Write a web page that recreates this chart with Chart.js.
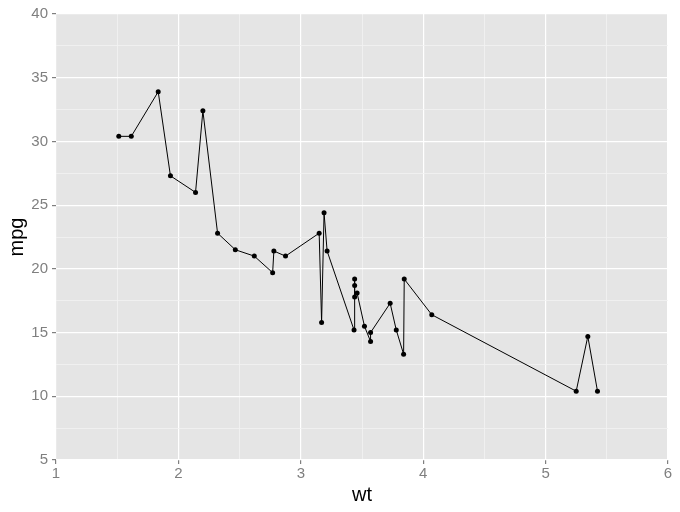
<!DOCTYPE html>
<html>
<head>
<meta charset="utf-8">
<script src="https://cdn.jsdelivr.net/npm/chart.js@4"></script>
<style>
  html, body { margin: 0; padding: 0; background: #fff; }
  #wrap { width: 680px; height: 512px; }
</style>
</head>
<body>
<div id="wrap"><canvas id="chart" width="680" height="512"></canvas></div>
<script>
// mtcars, sorted by weight (geom_line order)
const wt = [1.513, 1.615, 1.835, 1.935, 2.140, 2.200, 2.320, 2.465, 2.620, 2.770, 2.780, 2.875,
  3.150, 3.170, 3.190, 3.215, 3.435, 3.440, 3.440, 3.440, 3.460, 3.520, 3.570, 3.570,
  3.730, 3.780, 3.840, 3.845, 4.070, 5.250, 5.345, 5.424];
const mpg = [30.4, 30.4, 33.9, 27.3, 26.0, 32.4, 22.8, 21.5, 21.0, 19.7, 21.4, 21.0,
  22.8, 15.8, 24.4, 21.4, 15.2, 18.7, 19.2, 17.8, 18.1, 15.5, 14.3, 15.0,
  17.3, 15.2, 13.3, 19.2, 16.4, 10.4, 14.7, 10.4];
const xTicks = [1, 2, 3, 4, 5, 6];
const yTicks = [5, 10, 15, 20, 25, 30, 35, 40];

const points = wt.map((w, i) => ({ x: w, y: mpg[i] }));

// grey panel behind the grid
const panelBg = {
  id: "panelBg",
  beforeDraw(chart) {
    const { ctx, chartArea: a } = chart;
    ctx.save();
    ctx.fillStyle = "#E5E5E5";
    ctx.fillRect(a.left, a.top, a.right - a.left, a.bottom - a.top);
    ctx.restore();
  },
};

const isMajor = (v, list) => list.some((t) => Math.abs(t - v) < 1e-9);

new Chart(document.getElementById("chart"), {
  type: "scatter",
  data: {
    datasets: [
      {
        data: points,
        showLine: true,
        borderColor: "#000",
        borderWidth: 1,
        backgroundColor: "#000",
        pointRadius: 2.5,
        pointBorderWidth: 0,
      },
    ],
  },
  plugins: [panelBg],
  options: {
    responsive: false,
    animation: false,
    layout: { padding: { top: 14, right: 12, left: 0, bottom: 0 } },
    plugins: { legend: { display: false }, tooltip: { enabled: false } },
    scales: {
      x: {
        type: "linear",
        min: 1,
        max: 6,
        afterFit: (s) => { s.height = 52; },
        border: { display: false },
        grid: {
          color: (c) => (isMajor(c.tick.value, xTicks) ? "#FFFFFF" : "#F2F2F2"),
          lineWidth: (c) => (isMajor(c.tick.value, xTicks) ? 1.2 : 0.8),
          tickColor: (c) => (isMajor(c.tick.value, xTicks) ? "#7F7F7F" : "rgba(0,0,0,0)"),
          tickLength: 4,
        },
        ticks: {
          stepSize: 0.5,
          autoSkip: false,
          maxRotation: 0,
          padding: 1,
          color: "#7F7F7F",
          font: { family: "Liberation Sans", size: 15 },
          callback: (v) => (isMajor(v, xTicks) ? String(v) : ""),
        },
        title: {
          display: true,
          text: "wt",
          color: "#000",
          font: { family: "Liberation Sans", size: 20 },
          padding: { top: 2, bottom: 5 },
        },
      },
      y: {
        type: "linear",
        min: 5,
        max: 40,
        afterFit: (s) => { s.width = 56; },
        border: { display: false },
        grid: {
          color: (c) => (isMajor(c.tick.value, yTicks) ? "#FFFFFF" : "#F2F2F2"),
          lineWidth: (c) => (isMajor(c.tick.value, yTicks) ? 1.2 : 0.8),
          tickColor: (c) => (isMajor(c.tick.value, yTicks) ? "#7F7F7F" : "rgba(0,0,0,0)"),
          tickLength: 4,
        },
        ticks: {
          stepSize: 2.5,
          autoSkip: false,
          padding: 4,
          color: "#7F7F7F",
          font: { family: "Liberation Sans", size: 15 },
          callback: (v) => (isMajor(v, yTicks) ? String(v) : ""),
        },
        title: {
          display: true,
          text: "mpg",
          color: "#000",
          font: { family: "Liberation Sans", size: 20 },
          padding: { top: 5, bottom: 4 },
        },
      },
    },
  },
});
</script>
</body>
</html>
